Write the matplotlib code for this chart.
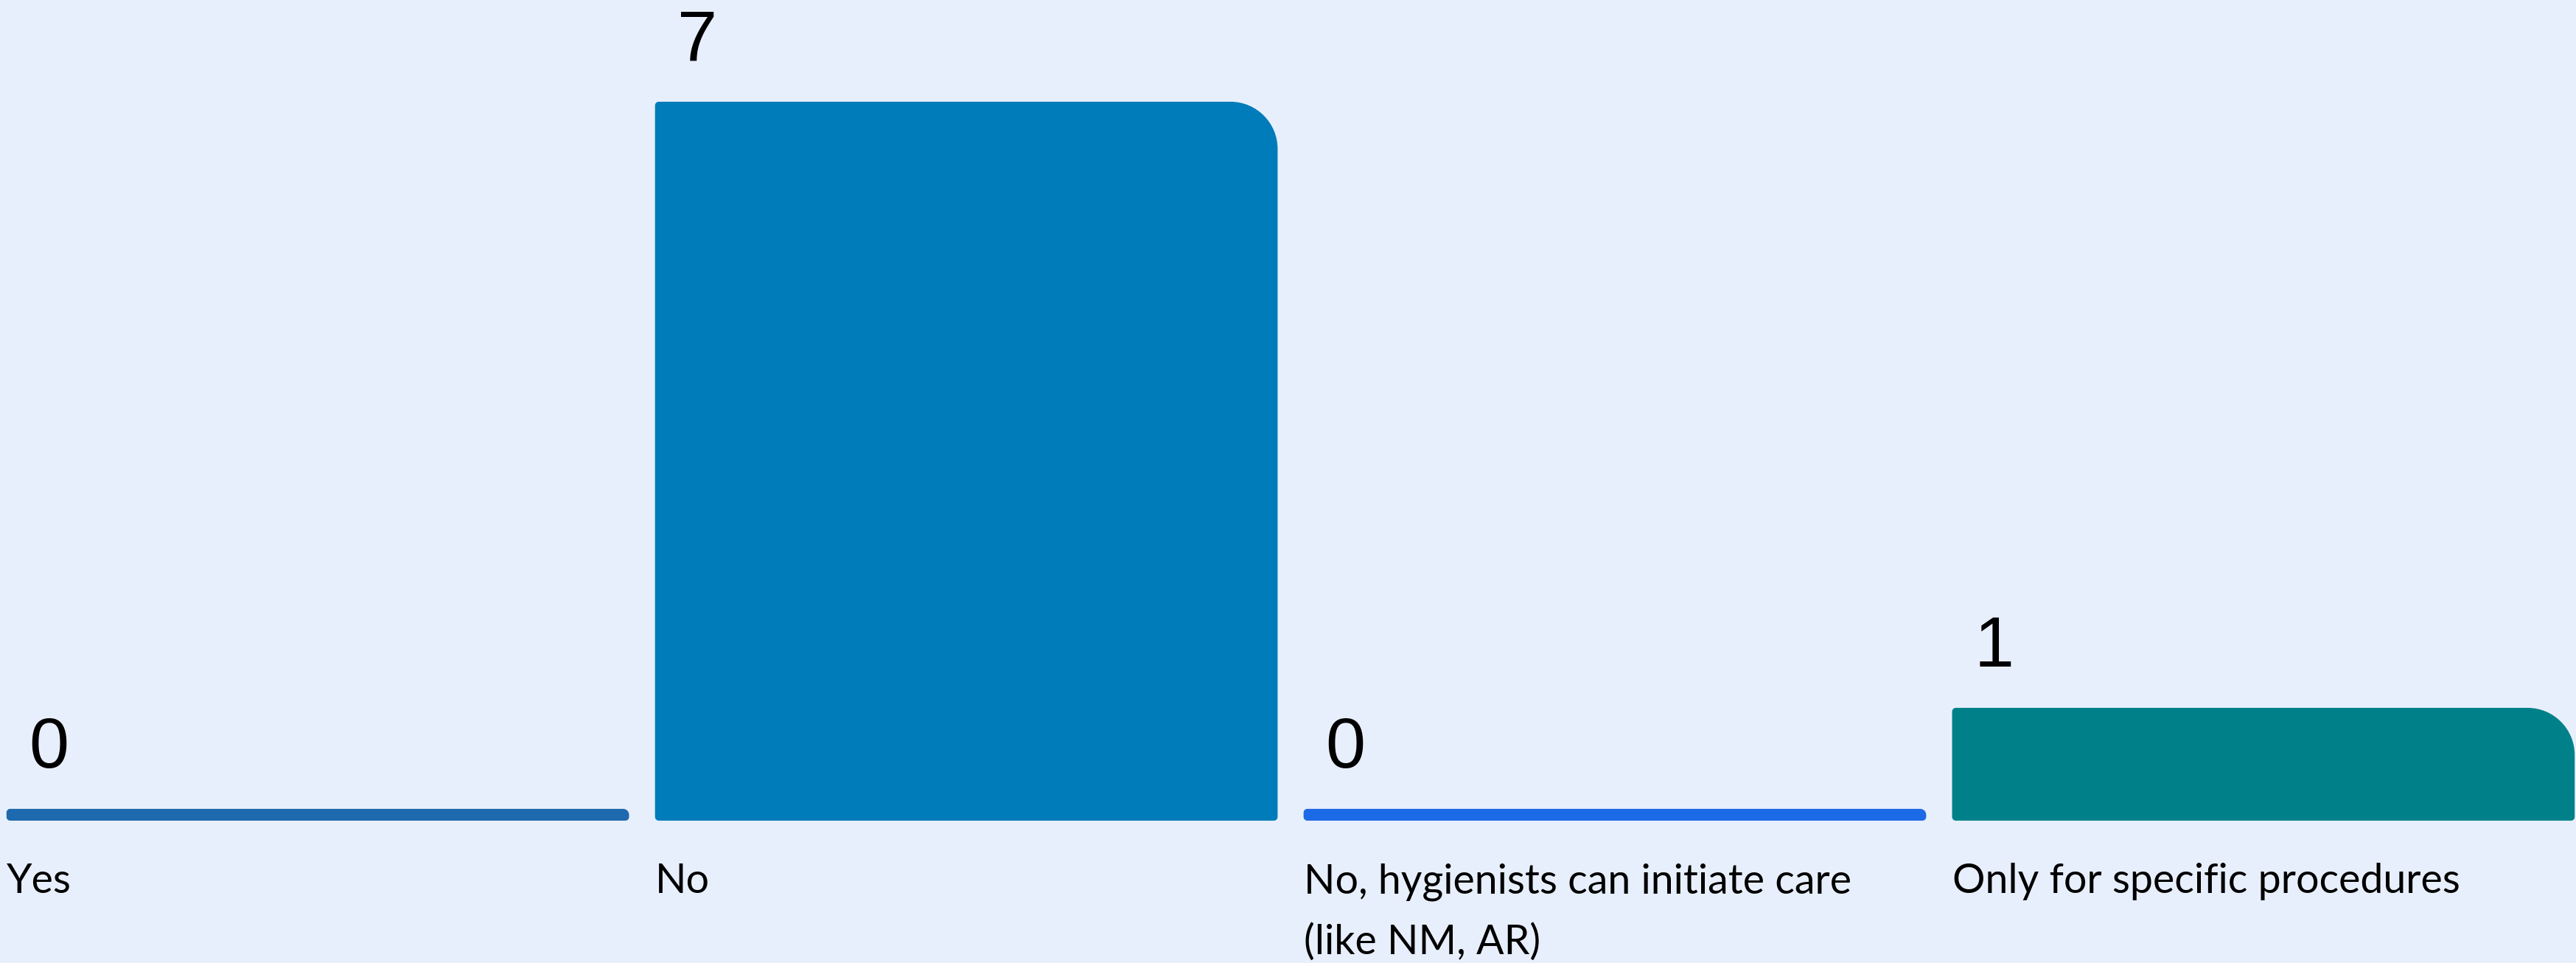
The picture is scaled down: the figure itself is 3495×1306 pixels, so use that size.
import matplotlib.pyplot as plt
from matplotlib.path import Path
from matplotlib.patches import PathPatch

categories = ['Yes', 'No', 'No, hygienists can initiate care\n(like NM, AR)',
              'Only for specific procedures']
counts = [0, 7, 0, 1]
bar_colors = ['#1F69AE', '#007CBA', '#1D6AE6', '#008189']
bg = '#E8EFFC'

W, H, DPI = 3495, 1306, 100
x_lo, x_hi = -0.49, 3.482
y_lo, y_hi = -1.526, 8.007

fig = plt.figure(figsize=(W / DPI, H / DPI), dpi=DPI, facecolor=bg)
ax = fig.add_axes([0, 0, 1, 1])
ax.set_facecolor(bg)
ax.set_xlim(x_lo, x_hi)
ax.set_ylim(y_lo, y_hi)
ax.axis('off')

# pixels per data unit, used to keep corner radii round on screen
px_x = W / (x_hi - x_lo)
px_y = H / (y_hi - y_lo)
K = 0.5523


def rounded_bar(x0, x1, y0, y1, radii, color):
    # radii in pixels: top-left, top-right, bottom-right, bottom-left
    h_px = (y1 - y0) * px_y
    tl, tr, br, bl = [min(r, h_px / 2) for r in radii]
    def rx(r): return r / px_x
    def ry(r): return r / px_y

    verts, codes = [], []

    def arc(p0, c, p3):
        verts.extend([(p0[0] + K * (c[0] - p0[0]), p0[1] + K * (c[1] - p0[1])),
                      (p3[0] + K * (c[0] - p3[0]), p3[1] + K * (c[1] - p3[1])),
                      p3])
        codes.extend([Path.CURVE4] * 3)

    start = (x0 + rx(bl), y0)
    verts.append(start); codes.append(Path.MOVETO)
    p = (x1 - rx(br), y0)
    verts.append(p); codes.append(Path.LINETO)
    arc(p, (x1, y0), (x1, y0 + ry(br)))
    p = (x1, y1 - ry(tr))
    verts.append(p); codes.append(Path.LINETO)
    arc(p, (x1, y1), (x1 - rx(tr), y1))
    p = (x0 + rx(tl), y1)
    verts.append(p); codes.append(Path.LINETO)
    arc(p, (x0, y1), (x0, y1 - ry(tl)))
    p = (x0, y0 + ry(bl))
    verts.append(p); codes.append(Path.LINETO)
    arc(p, (x0, y0), start)
    verts.append(start); codes.append(Path.CLOSEPOLY)
    ax.add_patch(PathPatch(Path(verts, codes), facecolor=color,
                           edgecolor='none', lw=0))


bar_w = 0.96
stub = 16 / px_y          # zero values still show a thin strip
label_y = y_lo + 95 / px_y
line_gap = 83 / px_y

for i, (cat, val, col) in enumerate(zip(categories, counts, bar_colors)):
    left = i - bar_w / 2
    rounded_bar(left, left + bar_w, -stub, val, (5, 64, 5, 5), col)
    ax.text(left + 30 / px_x, val + 56 / px_y, str(val),
            fontsize=70, family='Liberation Sans', color='black',
            ha='left', va='baseline')
    for j, line in enumerate(cat.split('\n')):
        ax.text(left, label_y - j * line_gap, line, fontsize=40,
                family='Lato', color='black', ha='left', va='baseline')

fig.savefig('out.png', dpi=DPI, facecolor=bg)
